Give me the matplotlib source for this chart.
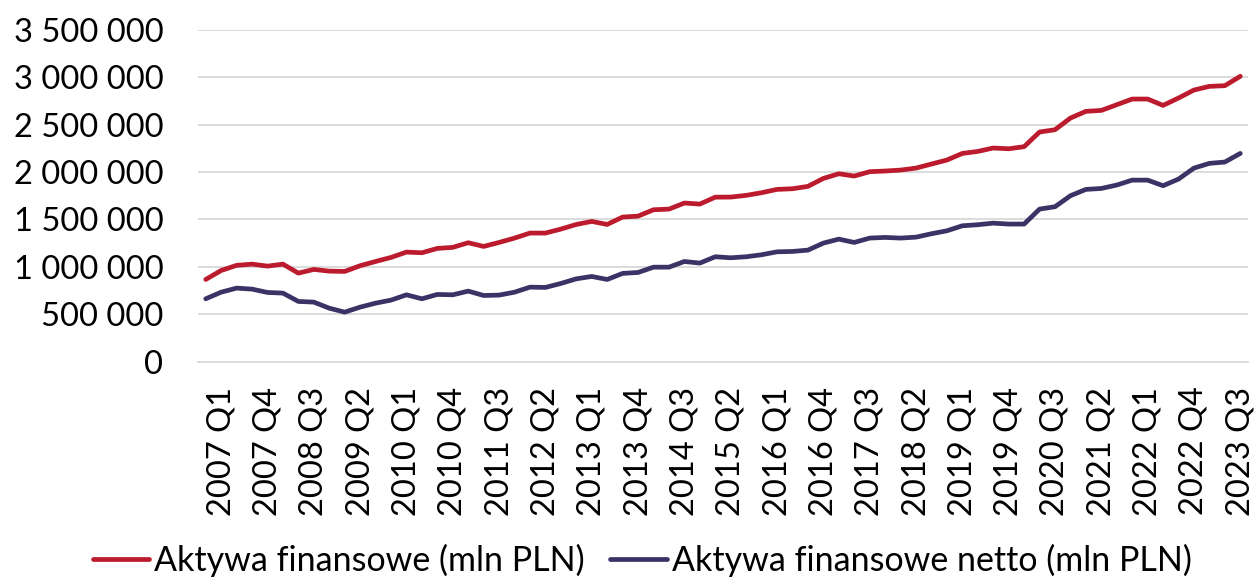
import matplotlib
matplotlib.use("Agg")
import matplotlib.pyplot as plt
from matplotlib.ticker import FuncFormatter, FixedLocator

# Quarters: 2006 Q4 .. 2023 Q3 (first category unlabeled in the chart)
quarters = ["2006 Q4"] + [f"{y} Q{q}" for y in range(2007, 2024) for q in range(1, 5)][:67]

aktywa_fin = [866, 961, 1015, 1028, 1007, 1028, 933, 972, 954, 951,
              1011, 1056, 1099, 1155, 1148, 1194, 1205, 1254, 1215, 1257,
              1303, 1356, 1356, 1398, 1447, 1479, 1447, 1525, 1535, 1602,
              1609, 1673, 1662, 1735, 1736, 1754, 1782, 1817, 1824, 1849,
              1933, 1982, 1958, 2004, 2011, 2021, 2042, 2085, 2127, 2197,
              2218, 2254, 2246, 2268, 2423, 2447, 2570, 2641, 2651, 2711,
              2771, 2771, 2704, 2782, 2866, 2905, 2912, 3011]
aktywa_fin = [v * 1000 for v in aktywa_fin]

aktywa_netto = [662, 732, 775, 764, 729, 722, 634, 627, 563, 521,
                574, 616, 648, 704, 662, 708, 704, 743, 697, 701,
                732, 785, 782, 824, 873, 898, 866, 930, 940, 996,
                996, 1056, 1039, 1106, 1095, 1106, 1127, 1158, 1162, 1176,
                1250, 1292, 1257, 1303, 1310, 1303, 1313, 1349, 1380, 1433,
                1444, 1461, 1451, 1451, 1609, 1634, 1750, 1817, 1827, 1863,
                1915, 1915, 1856, 1926, 2042, 2092, 2106, 2197]
aktywa_netto = [v * 1000 for v in aktywa_netto]

series_names = ["Aktywa finansowe (mln PLN)", "Aktywa finansowe netto (mln PLN)"]
yticks = [0, 500000, 1000000, 1500000, 2000000, 2500000, 3000000, 3500000]

plt.rcParams['font.family'] = ['Lato', 'DejaVu Sans']
FS = 23.5
FS_LEG = 24.5

fig = plt.figure(figsize=(12.57, 5.78), dpi=100)
ax = fig.add_axes([198/1257, 1 - 361.5/578, (1248-198)/1257, (361.5-30)/578])

x = list(range(len(quarters)))
l1, = ax.plot(x, aktywa_fin, color="#BC1B2E", lw=3.4, solid_capstyle="round",
              solid_joinstyle="round", zorder=3)
l2, = ax.plot(x, aktywa_netto, color="#3D3265", lw=3.4, solid_capstyle="round",
              solid_joinstyle="round", zorder=3)

ax.set_xlim(-0.5, len(quarters) - 0.5)
ax.set_ylim(0, 3500000)
ax.set_yticks(yticks)
ax.yaxis.set_major_formatter(FuncFormatter(lambda v, p: f"{v:,.0f}".replace(",", " ")))
ax.grid(axis="y", color="#D9D9D9", lw=1.3, zorder=0)
ax.set_axisbelow(True)

tick_pos = list(range(1, len(quarters), 3))
ax.xaxis.set_major_locator(FixedLocator(tick_pos))
ax.set_xticklabels([quarters[i] for i in tick_pos], rotation=90, va="top", ha="center")

ax.tick_params(axis="y", length=0, pad=25, labelsize=FS)
ax.tick_params(axis="x", length=0, pad=18, labelsize=FS)
for s in ax.spines.values():
    s.set_visible(False)
ax.spines["bottom"].set_visible(True)
ax.spines["bottom"].set_color("#D9D9D9")
ax.spines["bottom"].set_linewidth(1.3)

fig.legend([l1, l2], series_names, loc="center", bbox_to_anchor=(0.511, 0.03),
           ncol=2, frameon=False, fontsize=FS_LEG, handlelength=1.65,
           handletextpad=0.15, columnspacing=0.75)

fig.savefig("out.png", dpi=100)
